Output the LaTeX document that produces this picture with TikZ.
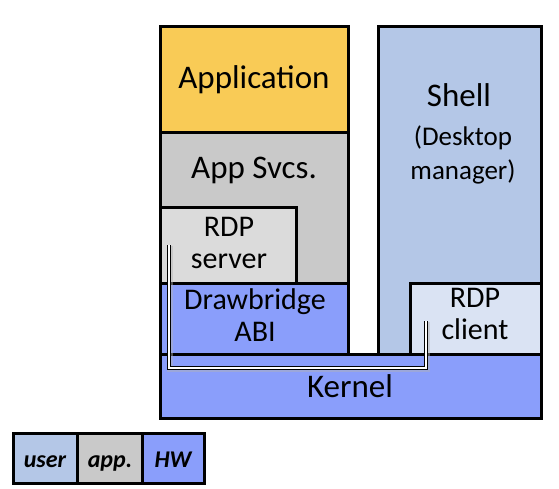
\documentclass[tikz,border=0pt]{standalone}
\usepackage{fontspec}
\setmainfont{Carlito}
\begin{document}
\begin{tikzpicture}[x=1pt,y=-1pt,
  blk/.style={draw=black,line width=3pt,line join=miter},
  big/.style={font=\fontsize{33}{35}\selectfont,inner sep=0pt,align=center},
  mid/.style={font=\fontsize{30}{32}\selectfont,inner sep=0pt,align=center},
  sml/.style={font=\fontsize{27}{34}\selectfont,inner sep=0pt,align=center},
  leg/.style={font=\fontsize{24}{26}\selectfont\bfseries\itshape,inner sep=0pt,anchor=base},
  pipe/.style={draw=black,line width=1.2pt,double=white,double distance=1.6pt,line join=miter}]
\useasboundingbox (0,0) rectangle (559,489);
\definecolor{cyel}{HTML}{F9CB56}
\definecolor{cgray}{HTML}{C9C9C9}
\definecolor{clgray}{HTML}{DBDBDB}
\definecolor{cblue}{HTML}{8A9EFB}
\definecolor{cshell}{HTML}{B4C7E7}
\definecolor{cclient}{HTML}{DAE3F3}
% boxes
\path[blk,fill=cyel] (160,27) rectangle (348,133);
\path[blk,fill=cgray] (160,133) rectangle (348,283);
\path[blk,fill=clgray] (160,207) rectangle (296,283);
\path[blk,fill=cblue] (160,283) rectangle (348,354);
\path[blk,fill=cshell] (378,27) rectangle (541,354);
\path[blk,fill=cclient] (410,283) rectangle (541,354);
\path[blk,fill=cblue] (160,354) rectangle (541,418);
% texts
\node[big] (app) at (254,80) {Application};
\node[big] (svcs) at (254,170) {App Svcs.};
\node[mid] (srv) at (229,243) {RDP\\server};
\node[mid] (abi) at (255,315) {Drawbridge\\ABI};
\node[big] (kern) at (350,386) {Kernel};
\node[big] (shell) at (459,95) {Shell};
\node[sml] (desk) at (463,155) {(Desktop\\manager)};
\node[mid] (cli) at (475,314) {RDP\\client};
% connector
\coordinate (ps) at (169,245);
\coordinate (pc) at (426,321);
\draw[gray!60,line width=6pt,opacity=0.45] ([xshift=1pt,yshift=-1pt]ps) |- ([xshift=1pt,yshift=-1pt]pc |- 0,368) -- ([xshift=1pt,yshift=-1pt]pc);
\draw[pipe] (ps) |- (pc |- 0,368) -- (pc);
% legend
\path[blk,fill=cshell] (13,433) rectangle (77,483);
\path[blk,fill=cgray] (77,433) rectangle (142,483);
\path[blk,fill=cblue] (142,433) rectangle (204,483);
\node[leg] (lu) at (45,467) {user};
\node[leg] (la) at (110,467) {app.};
\node[leg] (lh) at (173,467) {HW};
\end{tikzpicture}
\end{document}
